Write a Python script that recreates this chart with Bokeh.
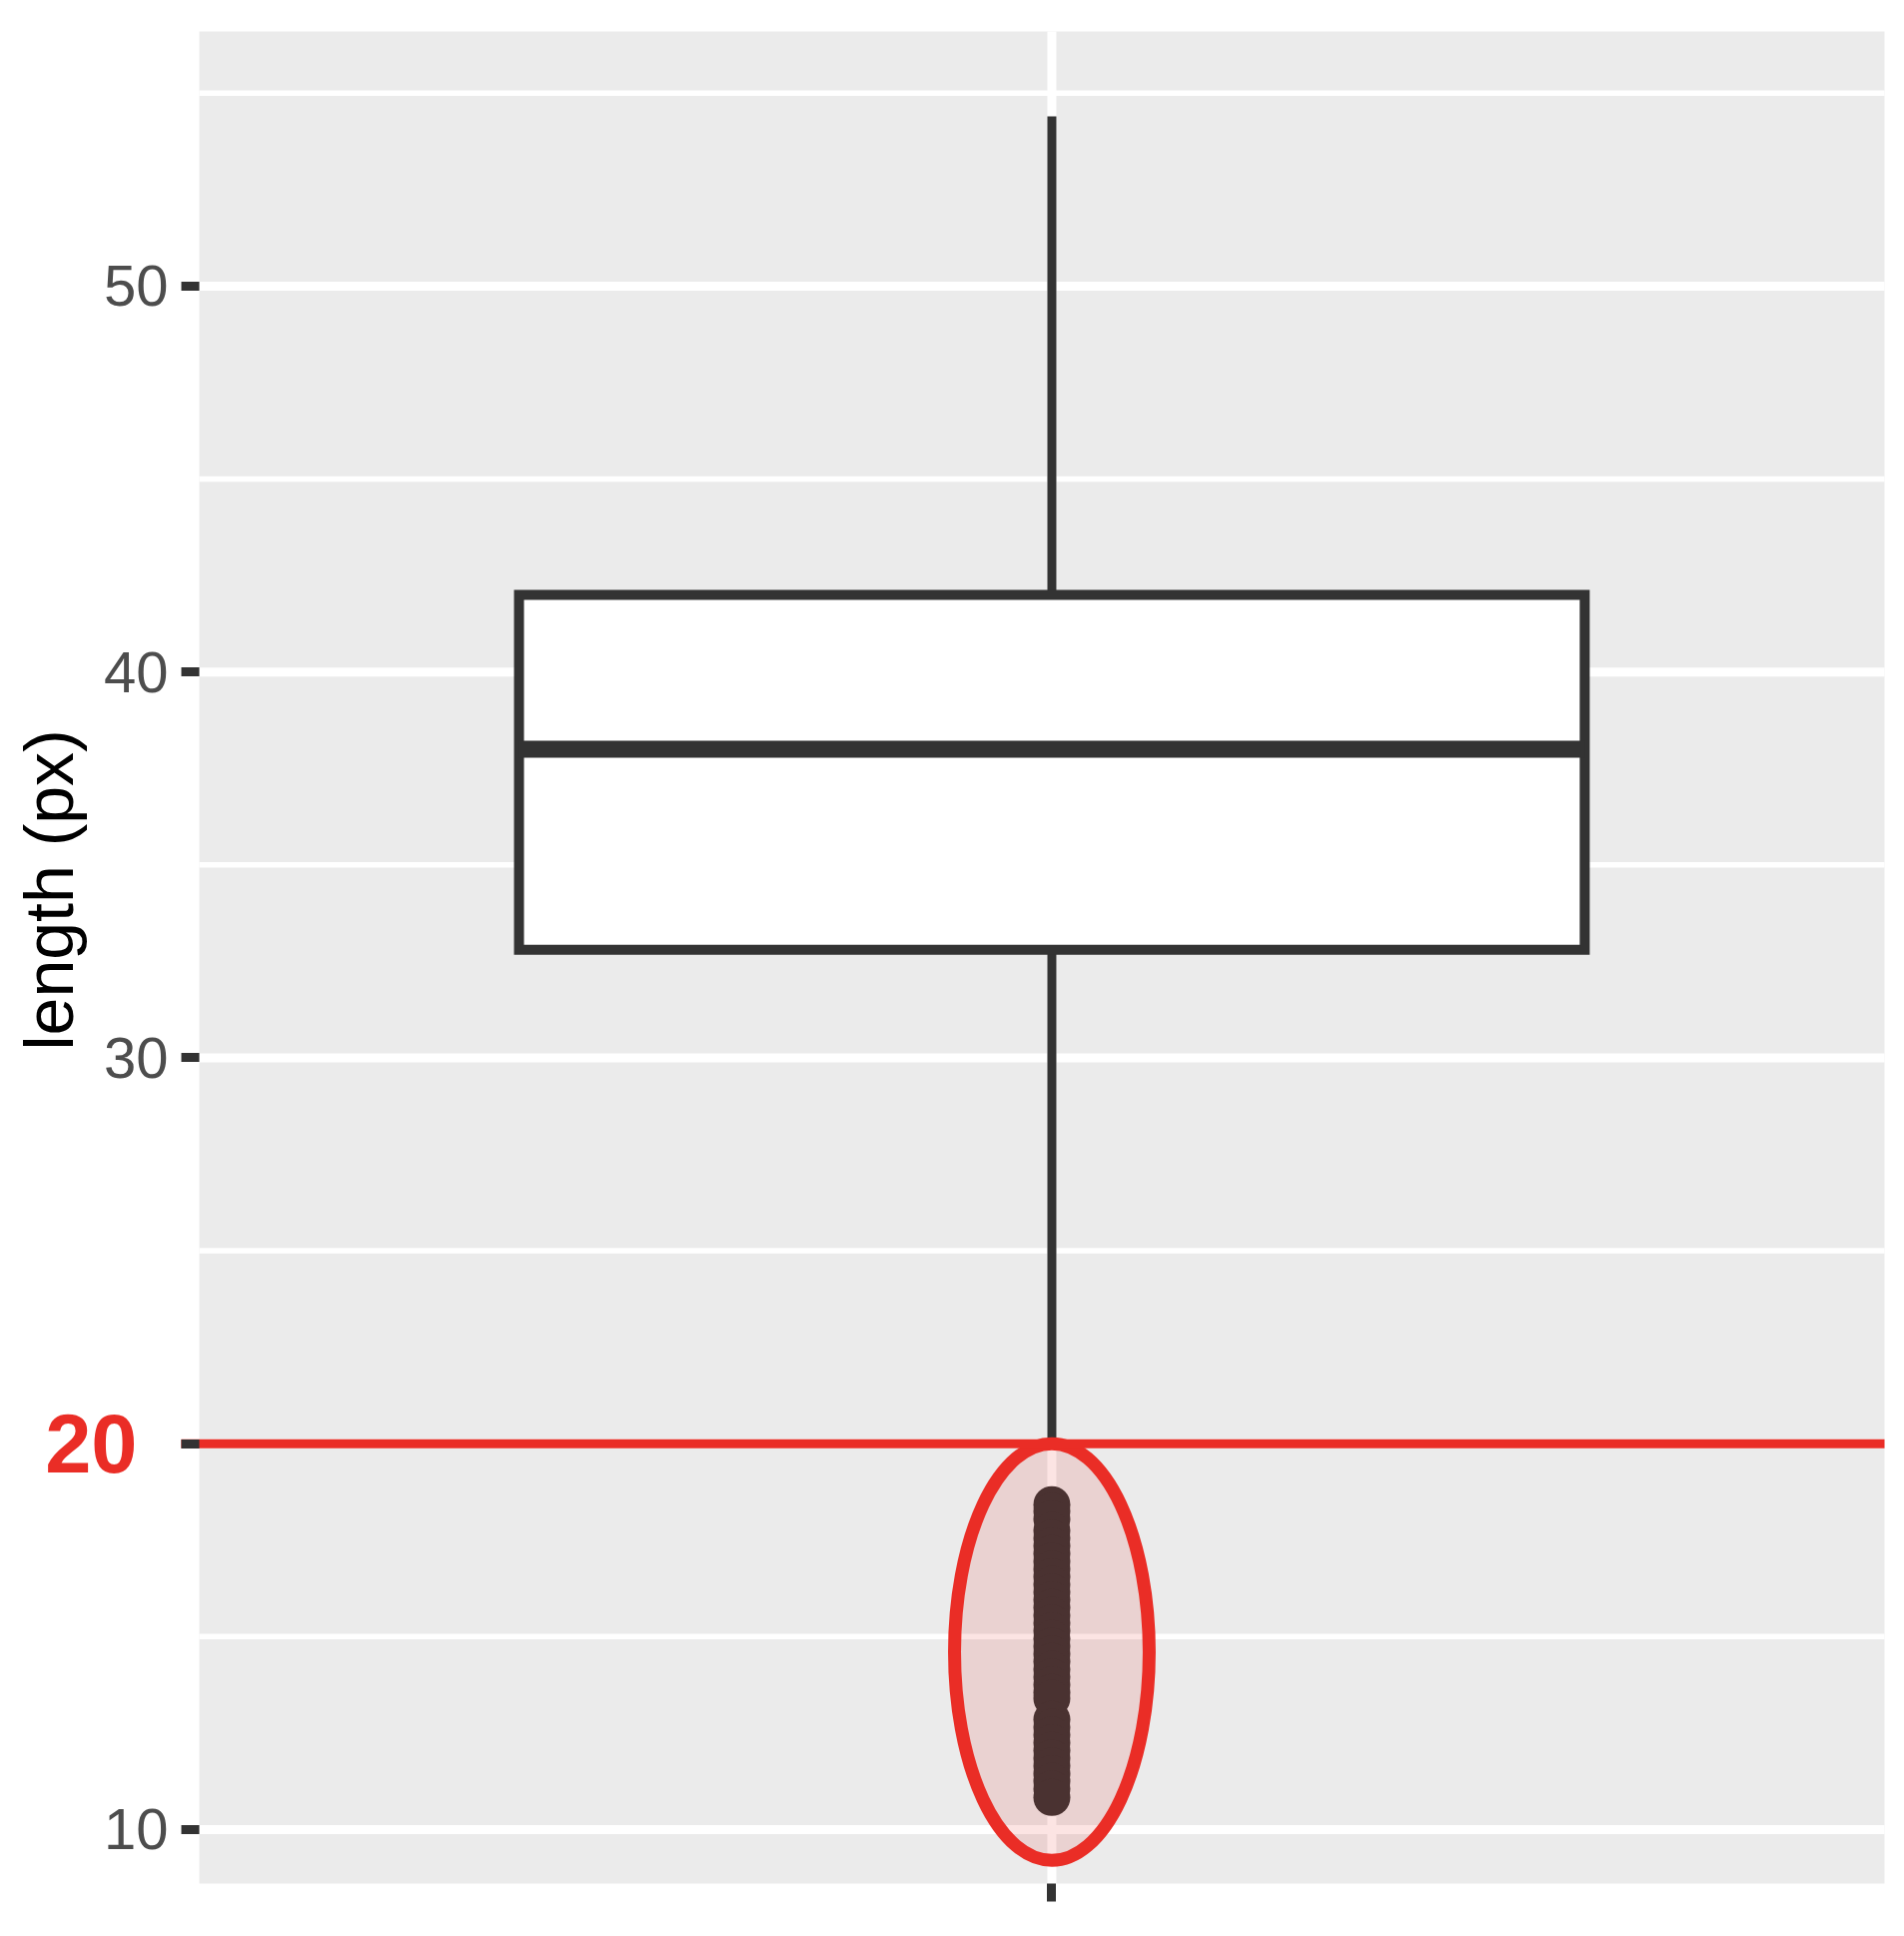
from bokeh.plotting import figure
from bokeh.models import Range1d, SingleIntervalTicker, FixedTicker, Label, LinearAxis
from bokeh.embed import file_html
from bokeh.resources import INLINE

# ---------------- data ----------------
x_positions = [1.0]
lower_whisker = [20.0]
q1 = [32.8]
median = [38.0]
q3 = [42.0]
upper_whisker = [54.4]
outliers = [18.42, 18.25, 18.05, 17.75, 17.55, 17.35, 17.15, 16.95, 16.75, 16.55,
            16.35, 16.15, 15.95, 15.75, 15.55, 15.35, 15.15, 14.95, 14.75, 14.55,
            14.35, 14.15, 13.95, 13.75, 13.55, 13.40, 12.85, 12.65, 12.45, 12.25,
            12.05, 11.85, 11.65, 11.45, 11.25, 11.05, 10.83]
threshold = 20
major_y = [10, 20, 30, 40, 50]
minor_y = [15, 25, 35, 45, 55]
y_title = "length (px)"

# ---------------- layout / styles ----------------
FONT = "Liberation Sans"
DARK = "#333333"
RED = "#EA2D26"
PANEL = "#EBEBEB"
BOX_W = 0.75
PANEL_X = (0.4, 1.586)      # panel extent in data units
PANEL_Y = (8.6, 56.6)

p = figure(width=1890, height=1922, output_backend="svg", toolbar_location=None,
           x_range=Range1d(0.2601, 1.5888), y_range=Range1d(7.641, 57.403),
           x_axis_location=None, y_axis_location=None,
           min_border_left=0, min_border_right=0, min_border_top=0,
           min_border_bottom=0)
p.background_fill_color = "white"
p.border_fill_color = "white"
p.outline_line_color = None
p.xgrid.visible = False
p.ygrid.visible = False

# grey panel
p.quad(left=[PANEL_X[0]], right=[PANEL_X[1]], bottom=[PANEL_Y[0]], top=[PANEL_Y[1]],
       fill_color=PANEL, line_color=None)

# grid lines (clipped to the panel)
n_min = len(minor_y)
p.segment(x0=[PANEL_X[0]] * n_min, x1=[PANEL_X[1]] * n_min, y0=minor_y, y1=minor_y,
          line_color="white", line_width=5.5)
n_maj = len(major_y)
p.segment(x0=[PANEL_X[0]] * n_maj, x1=[PANEL_X[1]] * n_maj, y0=major_y, y1=major_y,
          line_color="white", line_width=9)
p.segment(x0=x_positions, x1=x_positions, y0=[PANEL_Y[0]], y1=[PANEL_Y[1]],
          line_color="white", line_width=9)

# y axis drawn at the panel's left edge
yaxis = LinearAxis(fixed_location=PANEL_X[0],
                   ticker=SingleIntervalTicker(interval=10, num_minor_ticks=0))
yaxis.major_label_overrides = {threshold: ""}
yaxis.major_label_text_font = FONT
yaxis.major_label_text_font_size = "58px"
yaxis.major_label_text_color = "#4D4D4D"
yaxis.major_label_standoff = 13
yaxis.major_tick_out = 18
yaxis.major_tick_in = 0
yaxis.minor_tick_out = 0
yaxis.minor_tick_in = 0
yaxis.major_tick_line_color = DARK
yaxis.major_tick_line_width = 9
yaxis.axis_line_color = None
p.add_layout(yaxis, "left")

# x axis drawn at the panel's bottom edge
xaxis = LinearAxis(fixed_location=PANEL_Y[0], ticker=FixedTicker(ticks=x_positions))
xaxis.major_label_overrides = {1: ""}
xaxis.major_label_text_font_size = "8px"
xaxis.major_tick_out = 18
xaxis.major_tick_in = 0
xaxis.minor_tick_out = 0
xaxis.minor_tick_in = 0
xaxis.major_tick_line_color = DARK
xaxis.major_tick_line_width = 9
xaxis.axis_line_color = None
p.add_layout(xaxis, "below")

# whiskers
p.segment(x0=x_positions, y0=q3, x1=x_positions, y1=upper_whisker,
          line_color=DARK, line_width=9)
p.segment(x0=x_positions, y0=lower_whisker, x1=x_positions, y1=q1,
          line_color=DARK, line_width=9)

# box
lefts = [x - BOX_W / 2 for x in x_positions]
rights = [x + BOX_W / 2 for x in x_positions]
p.quad(left=lefts, right=rights, bottom=q1, top=q3, fill_color="white",
       line_color=DARK, line_width=10, line_join="miter")
p.segment(x0=lefts, y0=median, x1=rights, y1=median, line_color=DARK, line_width=17)

# outliers
p.scatter(x=[x_positions[0]] * len(outliers), y=outliers, size=37,
          fill_color=DARK, line_color=None)

# highlight ellipse over outliers
p.ellipse(x=[1.0], y=[14.6], width=[0.137], height=[10.8],
          fill_color=RED, fill_alpha=0.13, line_color=RED, line_width=13)

# threshold line, running over the tick mark
p.segment(x0=[0.3873], x1=[PANEL_X[1]], y0=[threshold], y1=[threshold],
          line_color=RED, line_width=9)

# red threshold label
p.add_layout(Label(x=0.3564, y=threshold, text=str(threshold),
                   text_align="right", text_baseline="middle", text_color=RED,
                   text_font=FONT, text_font_style="bold", text_font_size="83px"))

# y axis title
p.add_layout(Label(x=0.2945, y=34.35, text=y_title, angle=1.5707963,
                   text_align="center", text_baseline="alphabetic",
                   text_color="black", text_font=FONT, text_font_size="68px"))

open("out.html", "w").write(file_html(p, INLINE))
